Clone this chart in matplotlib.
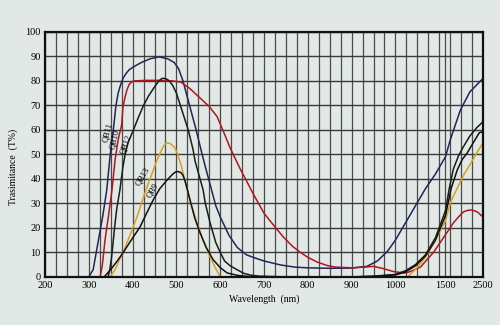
import numpy as np
import matplotlib
matplotlib.use("Agg")
import matplotlib.pyplot as plt
from matplotlib.ticker import FixedLocator

# Transmittance curves (wavelength nm, T %)
qb11_x = [300, 310, 322, 332, 341, 349, 356, 362, 367, 372, 378, 385, 392, 400, 420, 440, 460,
          480, 495, 505, 515, 530, 545, 556, 566, 578, 590, 600, 620, 639, 660, 675, 700, 737,
          770, 800, 850, 900, 935, 959, 982, 1000, 1100, 1200, 1300, 1400, 1500, 1630, 1895,
          2150, 2500]
qb11_y = [0, 3, 15, 25, 35.5, 50, 60, 70, 75, 78, 81, 83, 84.5, 85.5, 87.5, 89, 89.8,
          89, 87.5, 85, 80, 70, 60, 52, 45, 37, 29, 24.5, 17, 12, 9, 8, 6.5, 4.9,
          4, 3.7, 3.5, 3.6, 4.3, 6.5, 10.5, 15, 22, 29, 36, 42, 49, 56, 68,
          75.5, 81]

qb10_x = [326, 331, 337, 345, 353, 360, 367, 375, 378, 383, 387, 392, 398, 405, 430, 460, 490,
          510, 530, 554, 575, 593, 610, 623, 645, 660, 675, 700, 720, 744, 765, 783, 800, 822,
          845, 863, 900, 930, 950, 970, 995, 1050, 1100, 1150, 1250, 1380, 1480, 1600, 1710,
          1850, 1973, 2100, 2210, 2350, 2500]
qb10_y = [0, 5, 15, 25, 35.5, 47.8, 56, 62, 69.4, 73.5, 76.3, 78.5, 79.6, 80, 80.2, 80.2, 80,
          79.5, 77, 73, 69.5, 65.4, 58.2, 52.5, 44.3, 39.2, 34, 26, 21.5, 16.3, 12.5, 10, 8, 6,
          4.6, 4, 3.7, 4, 4.3, 3.5, 2.2, 1.8, 1.6, 2.2, 4, 10, 16, 19.5, 22,
          24.5, 26.5, 27.2, 27.3, 26.5, 24.5]

qb12_x = [344, 348, 352, 356, 360, 364, 371, 378, 383, 390, 402, 413, 425, 437, 450, 460, 467,
          474, 480, 486, 492, 500, 509, 518, 527, 538, 543, 554, 561, 566, 577, 581, 590, 600,
          610, 623, 639, 653, 670, 690, 750, 900, 950, 1000, 1100, 1200, 1300, 1400, 1500,
          1600, 1710, 1850, 1973, 2150, 2340, 2500]
qb12_y = [0, 3, 8, 15, 22, 28, 35.5, 45, 50, 55, 60, 65, 70, 74, 77.5, 80, 81,
          81, 80.5, 79.5, 78, 75, 70, 65, 60, 52, 47, 40, 35.5, 30, 22, 19.5, 14, 10,
          6.5, 4.5, 2.9, 1.5, 0.7, 0.3, 0, 0, 0.3, 1, 2.5, 5, 9, 16, 27,
          36, 44, 49.5, 53, 57.5, 61, 63.3]

qb13_x = [349, 360, 370, 378, 394, 410, 422, 433, 445, 456, 468, 474, 479, 485, 490, 496, 502,
          510, 520, 531, 545, 561, 575, 588, 600, 1000, 1120, 1200, 1300, 1400, 1500, 1650,
          1840, 2000, 2160, 2350, 2500]
qb13_y = [0, 3, 7, 9.8, 17, 24.5, 31, 36.7, 42.5, 47.8, 52.5, 54.2, 54.7, 54.5, 53.8, 52.8, 50.5,
          46, 39, 31.4, 23, 15, 9, 4, 0, 0, 0, 3, 8, 15, 23, 31,
          37, 42, 46, 51, 54.7]

qb9_x = [335, 350, 365, 378, 395, 417, 432, 447, 462, 479, 492, 498, 504, 510, 515, 520, 526,
         531, 542, 554, 568, 584, 600, 616, 640, 675, 900, 950, 1000, 1100, 1200, 1300, 1400,
         1500, 1650, 1815, 1950, 2080, 2250, 2400, 2500]
qb9_y = [0, 3, 6.5, 9.8, 14.5, 20.4, 26, 31.4, 36, 39.6, 42, 42.8, 43, 42.6, 41.5, 39, 35,
         31.4, 24, 18, 12, 7, 3.8, 1.6, 0.6, 0, 0, 0.2, 0.8, 2, 4.5, 8.5, 15,
         25, 36, 43.7, 48, 50.6, 55, 58.8, 59.3]

xtick_vals = [200, 300, 400, 500, 600, 700, 800, 900, 1000, 1500, 2500]
ytick_vals = list(range(0, 101, 10))

# broken wavelength axis: linear up to 1000 nm, compressed beyond
NM_KNOTS = [200, 1000, 1500, 2500]
U_KNOTS = [0, 8, 9.143, 10]


def fwd(x):
    return np.interp(x, NM_KNOTS, U_KNOTS)


def inv(u):
    return np.interp(u, U_KNOTS, NM_KNOTS)


BG = "#e2e8e6"
SERIF = ["Liberation Serif", "DejaVu Serif"]

fig = plt.figure(figsize=(5, 3.25), dpi=100, facecolor=BG)
ax = fig.add_axes([0.09, 0.148, 0.876, 0.754], facecolor=BG)
ax.set_xscale("function", functions=(fwd, inv))
ax.set_xlim(200, 2500)
ax.set_ylim(0, 100)

ax.xaxis.set_minor_locator(FixedLocator(inv(np.arange(0, 10.01, 0.25))))
ax.set_xticks(xtick_vals)
ax.set_xticklabels([str(v) for v in xtick_vals], family=SERIF, fontsize=7.5)
ax.set_yticks(ytick_vals)
ax.set_yticklabels([str(v) for v in ytick_vals], family=SERIF, fontsize=7.5)
ax.tick_params(which="both", length=0, pad=3)

ax.grid(which="both", axis="x", color="#4a4a4a", lw=0.9)
ax.grid(which="major", axis="y", color="#3a3a3a", lw=1.0)
ax.set_axisbelow(True)
for s in ax.spines.values():
    s.set_linewidth(1.6)
    s.set_color("#111111")

lw = 1.1
ax.plot(qb11_x, qb11_y, color="#22245a", lw=lw)
ax.plot(qb10_x, qb10_y, color="#b3141e", lw=lw)
ax.plot(qb12_x, qb12_y, color="#142019", lw=lw)
ax.plot(qb13_x, qb13_y, color="#d9a21c", lw=lw)
ax.plot(qb9_x, qb9_y, color="#111111", lw=lw)

lab = dict(family=SERIF, fontsize=6, ha="center", va="center")
ax.text(342, 58.8, "QB11", rotation=76, **lab)
ax.text(360, 56, "QB10", rotation=76, **lab)
ax.text(384, 53.9, "QB12", rotation=70, **lab)
ax.text(424, 40.8, "QB13", rotation=60, **lab)
ax.text(446, 35.5, "QB9", rotation=60, **lab)

ax.set_xlabel("Wavelength  (nm)", family=SERIF, fontsize=7, labelpad=3)
ax.set_ylabel("Trasimitance  (T%)", family=SERIF, fontsize=7)
ax.yaxis.set_label_coords(-0.062, 0.45)

fig.savefig("out.png", dpi=100, facecolor=BG)
